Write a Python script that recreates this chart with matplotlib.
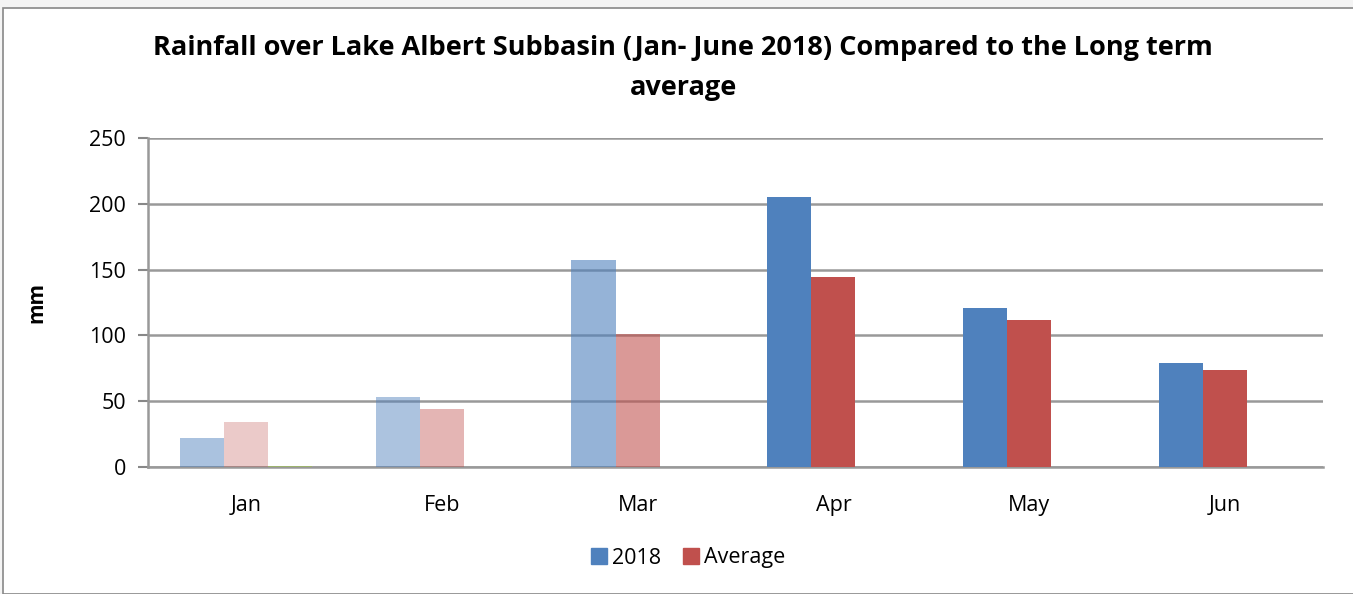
import matplotlib
matplotlib.use("Agg")
import matplotlib.pyplot as plt
from matplotlib.patches import Rectangle
import numpy as np

months = ["Jan", "Feb", "Mar", "Apr", "May", "Jun"]
rain_2018 = [22, 53, 157, 205, 121, 79]
rain_avg = [34, 44, 101, 144, 112, 74]
rain_other = [1, 0, 0, 0, 0, 0]   # stray third series, only visible in Jan

# first months are drawn faded in the original
fade_2018 = [0.48, 0.47, 0.6, 1, 1, 1]
fade_avg = [0.3, 0.42, 0.58, 1, 1, 1]

blue = "#4F81BD"
red = "#C0504D"
green = "#9BBB59"

plt.rcParams["font.family"] = ["Open Sans", "DejaVu Sans"]

fig = plt.figure(figsize=(13.53, 5.94), dpi=100)
fig.patch.set_facecolor("#f4f4f4")
fig.patches.append(Rectangle((3 / 1353, 0), 1.0, 1 - 8 / 594, transform=fig.transFigure,
                             facecolor="white", edgecolor="#888888", linewidth=1.2, zorder=-1))

ax = fig.add_axes([148 / 1353, 1 - 467 / 594, 1175 / 1353, 329 / 594])
ax.set_zorder(2)
ax.patch.set_alpha(0)
x = np.arange(len(months))
w = 0.225

for i in x:
    ax.bar(x[i] - w, rain_2018[i], w, color=blue, alpha=fade_2018[i], zorder=3)
    ax.bar(x[i], rain_avg[i], w, color=red, alpha=fade_avg[i], zorder=3)
    if rain_other[i] > 0:
        ax.bar(x[i] + w, rain_other[i], w, color=green, alpha=0.7, zorder=3)

ax.set_xlim(-0.5, len(months) - 0.5)
ax.set_ylim(0, 250)
ax.set_yticks(range(0, 251, 50))
ax.set_xticks(x)
ax.set_xticklabels(months)
ax.tick_params(axis="y", labelsize=15.5, length=7, color="#888888", width=1.5, pad=9)
ax.tick_params(axis="x", labelsize=15.5, length=0, pad=20)
ax.yaxis.grid(True, color="#999999", linewidth=1.8, zorder=1)
ax.set_axisbelow(True)
for s in ["top", "right"]:
    ax.spines[s].set_visible(False)
ax.spines["left"].set_color("#999999")
ax.spines["left"].set_linewidth(1.8)
ax.spines["bottom"].set_color("#999999")
ax.spines["bottom"].set_linewidth(1.8)
ax.set_ylabel("mm", fontsize=15, fontweight="bold", labelpad=30)

fig.text(0.505, 1 - 68 / 594,
         "Rainfall over Lake Albert Subbasin (Jan- June 2018) Compared to the Long term\naverage",
         ha="center", va="center", fontsize=19.5, fontweight="bold", linespacing=1.7)

h1 = plt.Line2D([], [], marker="s", linestyle="none", color=blue, markersize=12)
h2 = plt.Line2D([], [], marker="s", linestyle="none", color=red, markersize=12)
fig.legend([h1, h2], ["2018", "Average"], loc="center", bbox_to_anchor=(0.507, 1 - 558 / 594),
           ncol=2, frameon=False, fontsize=15.5, handletextpad=0.0, columnspacing=0.8,
           handlelength=1.2)

fig.savefig("out.png", dpi=100, facecolor=fig.get_facecolor())
